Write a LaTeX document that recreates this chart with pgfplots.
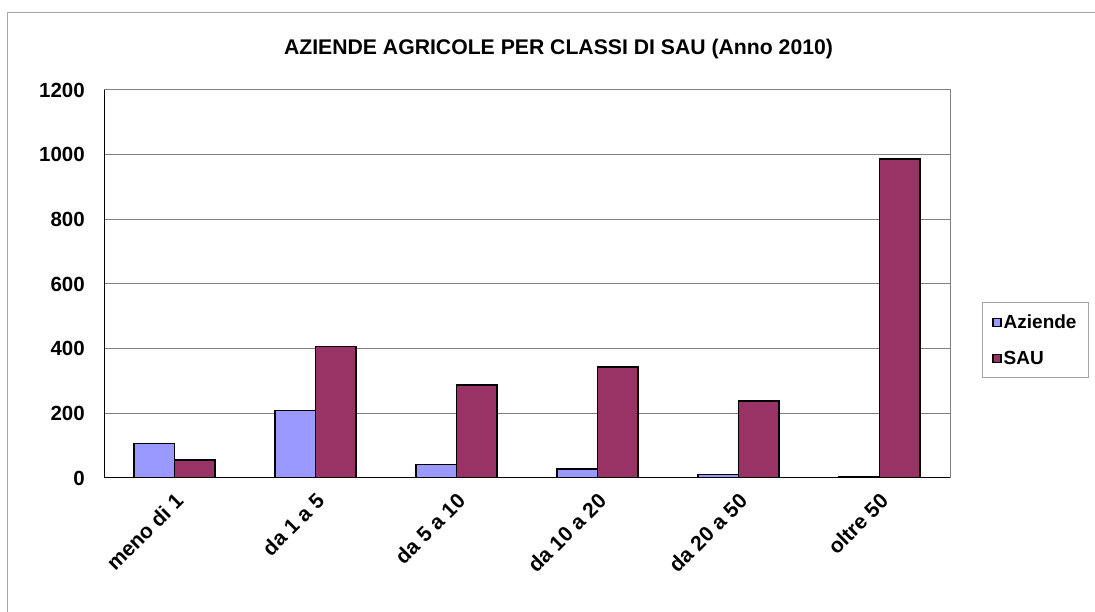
\documentclass[border=0pt]{standalone}
\usepackage{fontspec}
\setmainfont{Liberation Sans}
\usepackage{pgfplots}
\pgfplotsset{compat=1.18}
\definecolor{azi}{HTML}{9999FF}
\definecolor{sau}{HTML}{993366}
\definecolor{frm}{HTML}{A6A6A6}
\begin{document}
\begin{tikzpicture}[x=1bp,y=1bp]
\path[use as bounding box, fill=white] (0,0) rectangle (1095,612);
\draw[frm, line width=1.5bp] (7.5,-20) -- (7.5,599.5) -- (1120,599.5);
\node[anchor=base, font=\bfseries\fontsize{21.2bp}{25bp}\selectfont, inner sep=0] at (558.5,557.5) {AZIENDE AGRICOLE PER CLASSI DI SAU (Anno 2010)};
\begin{axis}[
  at={(104bp,134bp)}, anchor=south west,
  scale only axis, width=846bp, height=388bp,
  xmin=-0.5, xmax=5.5, ymin=0, ymax=1200,
  ytick={0,200,...,1200},
  xtick={0,...,5},
  xticklabels={meno di 1, da 1 a 5, da 5 a 10, da 10 a 20, da 20 a 50, oltre 50},
  major tick length=0pt,
  ymajorgrids, grid style={draw=gray, line width=1bp},
  axis line style={draw=gray, line width=1bp},
  /pgf/number format/assume math mode=true,
  /pgf/number format/1000 sep={},
  yticklabel style={font=\bfseries\fontsize{20.5bp}{24bp}\selectfont, inner sep=1bp, anchor=east, xshift=-18bp},
  xticklabel style={font=\bfseries\fontsize{21bp}{25bp}\selectfont, inner sep=1bp, rotate=45, anchor=east, xshift=-9bp, yshift=-17bp},
  legend style={at={(1.0378,0.4536)}, anchor=north west, draw=frm, line width=1bp,
    font=\bfseries\fontsize{19bp}{22bp}\selectfont, inner xsep=10bp, inner ysep=10bp,
    row sep=17bp},
  legend cell align=left,
  legend image code/.code={\draw[#1,draw=black,line width=1.2bp] (0bp,-4bp) rectangle (8bp,4bp);},
]
\addplot[ybar, bar width=0.2872, bar shift=-0.1436, fill=azi, draw=black, line width=1.5bp]
  coordinates {(0,106) (1,208) (2,42) (3,28) (4,11) (5,4)};
\addlegendentry{Aziende}
\addplot[ybar, bar width=0.2872, bar shift=0.1436, fill=sau, draw=black, line width=1.5bp]
  coordinates {(0,56) (1,406) (2,288) (3,344) (4,238) (5,987)};
\addlegendentry{SAU}
\draw[black, line width=1.2bp] (rel axis cs:0,1) -- (rel axis cs:0,0) -- (rel axis cs:1,0);
\end{axis}
\end{tikzpicture}
\end{document}
